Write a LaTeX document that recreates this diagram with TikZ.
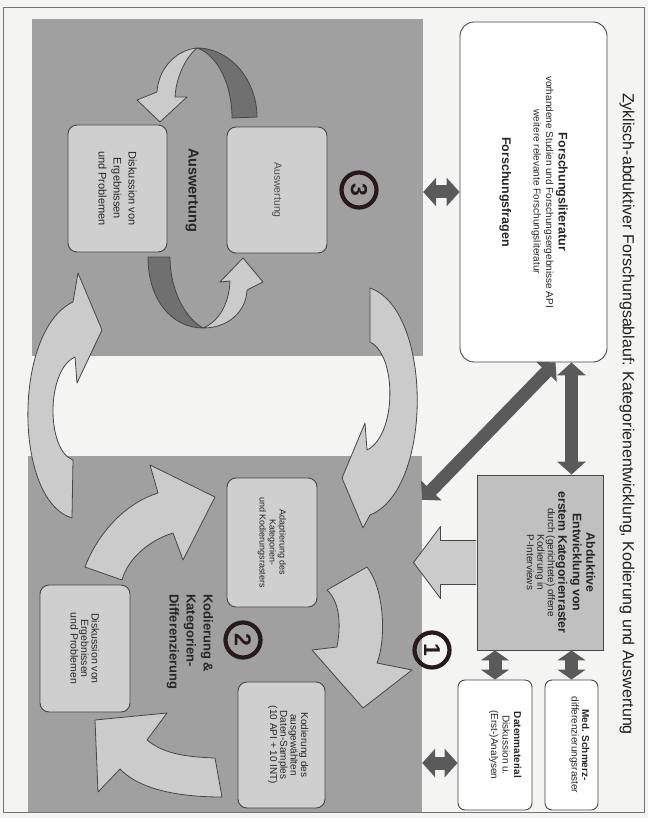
\documentclass[tikz,border=0pt]{standalone}
\usepackage{fontspec}
\setmainfont{Liberation Sans}
\usetikzlibrary{arrows.meta}

\definecolor{pagebg}{RGB}{244,244,243}
\definecolor{framegray}{RGB}{115,115,115}
\definecolor{regfill}{RGB}{160,160,160}
\definecolor{boxlight}{RGB}{207,207,207}
\definecolor{abdfill}{RGB}{192,192,192}
\definecolor{arrowlight}{RGB}{203,203,203}
\definecolor{arrowdark}{RGB}{90,90,90}
\definecolor{ringdark}{RGB}{112,112,112}
\definecolor{edgegray}{RGB}{70,70,70}
\definecolor{numring}{RGB}{40,26,26}

\tikzset{
  region/.style={fill=regfill, inner sep=0pt},
  box/.style={rotate=-90, draw=edgegray, line width=0.9pt, align=center, inner sep=2pt, text=black!85},
  whitebox/.style={box, fill=white, rounded corners=7pt},
  greybox/.style={box, fill=boxlight, rounded corners=9pt},
  boxtext/.style={rotate=-90, align=center, inner sep=0pt, text=black!85},
  darkarrow/.style={draw=arrowdark, line width=13pt, {Triangle[width=28pt,length=13pt]}-{Triangle[width=28pt,length=13pt]}},
  lightarrow/.style={fill=arrowlight, draw=edgegray, line width=0.8pt, line join=round},
  ringback/.style={fill=ringdark, draw=edgegray, line width=0.8pt, line join=round},
  numcirc/.style={circle, draw=numring, line width=4.2pt, minimum size=35pt, inner sep=0pt, rotate=-90, font=\fontsize{23}{23}\selectfont\bfseries, text=numring},
  heading/.style={rotate=-90, align=left, inner sep=0pt, font=\fontsize{13}{17}\selectfont\bfseries, text=black!85}
}

\begin{document}
\begin{tikzpicture}[x=1pt,y=-1pt]
  \path[use as bounding box, fill=pagebg] (0,0) rectangle (648,818);
  \draw[framegray, line width=1pt] (3,8) rectangle (644,812);
  \node[rotate=-90, font=\fontsize{16}{18}\selectfont, text=black!88] (title) at (627,414)
    {Zyklisch-abduktiver Forschungsablauf: Kategorienentwicklung, Kodierung und Auswertung};

  % grey areas
  \node[region, minimum width=391pt, minimum height=337pt] (reg3) at (227.5,187.5) {};
  \node[region, minimum width=394pt, minimum height=356pt] (reg2) at (225,634) {};

  % boxes
  \node[whitebox, rounded corners=14pt, minimum width=340pt, minimum height=147pt, font=\fontsize{10}{12.5}\selectfont] (lit) at (533.5,192)
    {{\fontsize{12.5}{14}\selectfont\bfseries Forschungsliteratur}\\vorhandene Studien und Forschungsergebnisse API\\weitere relevante Forschungsliteratur\\[19pt]{\fontsize{12.5}{14}\selectfont\bfseries Forschungsfragen}};
  \node[box, fill=abdfill, minimum width=175pt, minimum height=126pt] (abd) at (540,562.5) {};
  \node[boxtext, anchor=north, font=\fontsize{10}{10.5}\selectfont] (abdtxt) at ([xshift=-8pt]abd.north)
    {{\fontsize{12.3}{13}\selectfont\bfseries Abduktive}\\[3pt]{\fontsize{12.3}{13}\selectfont\bfseries Entwicklung von}\\[2pt]{\fontsize{12.3}{13}\selectfont\bfseries erstem Kategorienraster}\\durch (gerichtete) offene\\Kodierung in\\P-Interviews};
  \node[whitebox, minimum width=130pt, minimum height=53pt] (med) at (571.5,745) {};
  \node[boxtext, anchor=north, font=\fontsize{10}{10.5}\selectfont] (medtxt) at ([xshift=-9pt]med.north)
    {{\bfseries Med. Schmerz-}\\differenzierungsraster};
  \node[whitebox, minimum width=130pt, minimum height=74pt] (dat) at (495,745) {};
  \node[boxtext, anchor=north, font=\fontsize{10}{11.5}\selectfont] (dattxt) at ([xshift=-11pt]dat.north)
    {{\bfseries Datenmaterial}\\Diskussion u.\\(Erst-)Analysen};

  \node[greybox, minimum width=126pt, minimum height=100pt, font=\fontsize{10.5}{12}\selectfont, text=black!70] (ausw) at (277,190) {Auswertung};
  \node[greybox, minimum width=127pt, minimum height=99pt, font=\fontsize{11}{15}\selectfont] (disk3) at (117.5,188.5)
    {Diskussion von\\Ergebnissen\\und Problemen};
  \node[greybox, minimum width=129pt, minimum height=90pt, font=\fontsize{9}{10}\selectfont] (adapt) at (272,542.5)
    {Adaptierung des\\Kategorien-\\und Kodierungsrasters};
  \node[greybox, minimum width=126pt, minimum height=87pt] (kod) at (281.5,745) {};
  \node[boxtext, anchor=north, font=\fontsize{10}{9}\selectfont] (kodtxt) at ([xshift=-17pt]kod.north)
    {Kodierung des\\ausgew\"ahlten\\Daten-Samples\\(10 API + 10 INT)};
  \node[greybox, minimum width=127pt, minimum height=90pt, font=\fontsize{10.5}{10.5}\selectfont] (disk2) at (85,648.5)
    {Diskussion von\\Ergebnissen\\und Problemen};

  % dark double arrows
  \draw[darkarrow] (lit.east -| med.center) -- (abd.west -| med.center);
  \draw[darkarrow, {Triangle[width=28pt,length=10pt]}-{Triangle[width=28pt,length=10pt]}] (abd.east -| med.center) -- (med.west);
  \draw[darkarrow, {Triangle[width=28pt,length=10pt]}-{Triangle[width=28pt,length=10pt]}] (abd.east -| dat.center) -- (dat.west);
  \draw[darkarrow] (lit.south) -- (lit.south -| reg3.east);
  \draw[darkarrow] ([yshift=-18pt]dat.south) -- ([yshift=-18pt]dat.south -| reg2.east);
  \draw[darkarrow] ([xshift=22pt]lit.east) -- ([yshift=-44pt]reg2.north east);

  % wide arrow out of the first step
  \path[lightarrow] ([xshift=-0.5pt]abd.south) ++(0,-22) -- ++(-35.5,0) -- ++(0,-14) -- ++(-27,36) -- ++(27,36) -- ++(0,-14) -- ++(35.5,0);

  % curved arrows between the areas
  \draw[lightarrow] (73,302) -- (78,273) -- (102,330) -- (77,383) -- (75,357)
    .. controls (46,370) and (46,450) .. (73,460) -- (72,518)
    .. controls (13,500) and (13,330) .. (73,302) -- cycle;
  \draw[lightarrow] (370,288) .. controls (433,310) and (433,490) .. (370,515) -- (363,528) -- (342,478)
    -- (365,423) -- (367,450) .. controls (397,435) and (397,355) .. (370,342) -- cycle;

  % curved arrows in step 2
  \draw[lightarrow] (367,567) .. controls (385,590) and (386,640) .. (377,663) -- (412,670) -- (363,708)
    -- (312,650) -- (337,647) .. controls (342,620) and (338,600) .. (327,590) -- cycle;
  \draw[lightarrow] (85,567) .. controls (95,540) and (120,505) .. (158,493) -- (150,465) -- (215,497)
    -- (183,560) -- (173,533) .. controls (150,540) and (128,558) .. (122,580) -- cycle;
  \draw[lightarrow] (95,720) -- (167,713) -- (147,740) .. controls (165,755) and (190,757) .. (215,758)
    -- (222,797) .. controls (180,797) and (140,790) .. (120,769) -- (98,792) -- cycle;

  % ring in step 3
  \draw[ringback] (232,118) -- (257,117) .. controls (257,80) and (230,48) .. (197,48)
    .. controls (218,55) and (232,85) .. (232,118) -- cycle;
  \draw[lightarrow] (197,48) .. controls (175,50) and (158,70) .. (157,92) -- (137,100) -- (160,122)
    -- (187,97) -- (175,97) .. controls (176,78) and (185,58) .. (197,48) -- cycle;
  \draw[ringback] (148,257) -- (170,257) .. controls (170,290) and (185,318) .. (203,328)
    .. controls (172,328) and (148,300) .. (148,257) -- cycle;
  \draw[lightarrow] (203,328) .. controls (228,328) and (246,312) .. (247,290) -- (263,282) -- (243,258)
    -- (220,282) -- (230,281) .. controls (229,305) and (218,322) .. (203,328) -- cycle;

  % step labels
  \node[heading, font=\fontsize{14.5}{17}\selectfont\bfseries] (lab3) at (192,190) {Auswertung};
  \node[heading] (lab2) at (190,642) {Kodierung \&\\Kategorien-\\Differenzierung};
  \node[numcirc] (n1) at (432,650) {1};
  \node[numcirc] (n2) at (243,640) {2};
  \node[numcirc] (n3) at (359,190) {3};
\end{tikzpicture}
\end{document}
